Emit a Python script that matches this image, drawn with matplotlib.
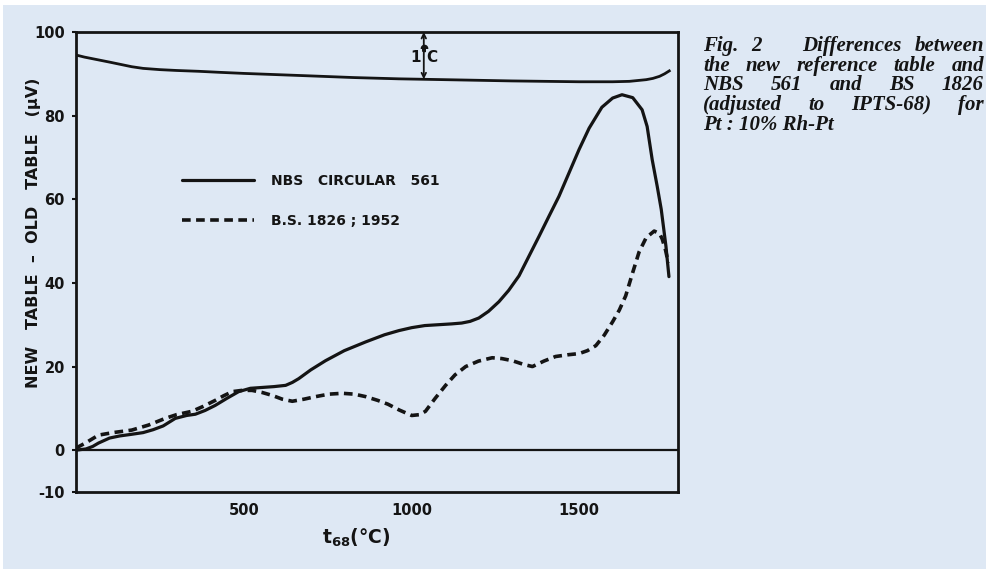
import matplotlib
matplotlib.use("Agg")
import matplotlib.pyplot as plt
from matplotlib.patches import Rectangle

plt.rcParams["axes.unicode_minus"] = False

#   values (t68 in degC, difference in microvolts)

nbs_t = [0, 30, 50, 67, 100, 130, 166, 200, 230, 260, 296, 330, 356, 385, 415, 450,
         485, 520, 555, 590, 625, 645, 664, 700, 744, 800, 864, 920, 963, 1001, 1040,
         1080, 1120, 1150, 1175, 1201, 1230, 1261, 1290, 1321, 1350, 1381, 1410, 1440,
         1470, 1500, 1530, 1568, 1600, 1628, 1660, 1688, 1703, 1718, 1733, 1745, 1759,
         1768]
nbs_v = [0, 0.3, 0.9, 1.7, 2.9, 3.4, 3.8, 4.2, 4.9, 5.8, 7.6, 8.3, 8.6, 9.5, 10.7, 12.4,
         14.0, 14.8, 15.0, 15.2, 15.5, 16.2, 17.1, 19.2, 21.4, 23.8, 25.9, 27.6, 28.6, 29.3,
         29.8, 30.0, 30.2, 30.4, 30.8, 31.6, 33.2, 35.5, 38.2, 41.7, 46.3, 51.2, 55.9, 60.7,
         66.3, 71.9, 77.0, 82.0, 84.2, 85.0, 84.3, 81.4, 77.4, 69.5, 63.1, 57.6, 48.8,
         41.5]

bs_t = [0, 30, 67, 110, 166, 216, 266, 300, 346, 380, 415, 440, 466, 495, 525, 555, 585,
        615, 645, 680, 714, 754, 794, 830, 864, 900, 930, 964, 1001, 1025, 1042, 1070,
        1102, 1130, 1162, 1200, 1241, 1270, 1301, 1335, 1361, 1395, 1430, 1465, 1500,
        1525, 1550, 1575, 1600, 1620, 1639, 1660, 1679, 1700, 1724, 1740, 1748, 1758,
        1766]
bs_v = [0.5, 1.8, 3.6, 4.2, 4.8, 6.0, 7.6, 8.5, 9.3, 10.5, 11.9, 13.0, 14.0, 14.3, 14.3,
        13.8, 13.1, 12.2, 11.7, 12.2, 12.8, 13.4, 13.6, 13.4, 12.8, 11.9, 11.0, 9.6, 8.3,
        8.5, 9.3, 12.3, 15.5, 18.0, 20.0, 21.3, 22.1, 21.9, 21.4, 20.5, 20.0, 21.3, 22.4,
        22.8, 23.1, 23.8, 25.0, 27.5, 30.7, 33.5, 36.9, 42.5, 47.4, 50.8, 52.4, 51.8, 50.5,
        47.8, 44.8]

#   1 degC scale curve hanging from the top of the frame
scale_t = [0, 25, 50, 100, 166, 200, 250, 300, 366, 430, 500, 600, 700, 830, 963, 1100,
           1300, 1500, 1600, 1650, 1700, 1720, 1740, 1755, 1769]
scale_v = [94.5, 94.0, 93.6, 92.8, 91.7, 91.3, 91.0, 90.8, 90.6, 90.35, 90.1, 89.8, 89.5,
           89.1, 88.8, 88.6, 88.3, 88.1, 88.1, 88.2, 88.6, 88.9, 89.4, 90.0, 90.7]

labels = ["NBS   CIRCULAR   561", "B.S. 1826 ; 1952"]
yticks = [-10, 0, 20, 40, 60, 80, 100]
xticks = [500, 1000, 1500]
arrow_t = 1037

caption = [("Fig. 2 Differences between", [1, 3, 1]),
           ("the new reference table and", None),
           ("NBS 561 and BS 1826", None),
           ("(adjusted to IPTS-68) for", None),
           ("Pt : 10% Rh-Pt", "left")]

bg = "#dee8f4"
ink = "#141414"

fig = plt.figure(figsize=(9.87, 5.69), dpi=100, facecolor="white")
fig.patches.append(Rectangle((3 / 987, 0), 1, 1 - 5 / 569, transform=fig.transFigure,
                             facecolor=bg, edgecolor="none", zorder=-10))

ax = fig.add_axes([76 / 987, 1 - 492 / 569, 602 / 987, 460 / 569])
ax.set_facecolor("none")

ax.plot(nbs_t, nbs_v, color=ink, lw=2.3, solid_capstyle="round",
        solid_joinstyle="round", label=labels[0])
ax.plot(bs_t, bs_v, color=ink, lw=2.6, linestyle=(0, (2.4, 1.5)), label=labels[1])
ax.plot(scale_t, scale_v, color=ink, lw=2.0, solid_joinstyle="round")
ax.axhline(0, color=ink, lw=1.6)

#   1 degC marker
ax.annotate("", xy=(arrow_t, 100), xytext=(arrow_t, 88.7),
            arrowprops=dict(arrowstyle="<->", color=ink, lw=1.3, shrinkA=0, shrinkB=0,
                            mutation_scale=8))
ax.annotate("1", (arrow_t, 94.0), xytext=(-2, 0), textcoords="offset points",
            ha="right", va="center", fontsize=11, fontweight="bold", color=ink,
            bbox=dict(fc=bg, ec="none", pad=0.5))
ax.annotate("C", (arrow_t, 94.0), xytext=(2, 0), textcoords="offset points",
            ha="left", va="center", fontsize=11, fontweight="bold", color=ink,
            bbox=dict(fc=bg, ec="none", pad=0.5))
ax.plot([arrow_t], [96.2], marker="o", ms=4.5, color=ink)

ax.set_xlim(0, 1795)
ax.set_ylim(-10, 100)
ax.set_xticks(xticks)
ax.set_yticks(yticks)
ax.tick_params(axis="y", direction="out", length=3, width=1.5, pad=5,
               labelsize=10.5, colors=ink)
ax.tick_params(axis="x", length=0, pad=8, labelsize=10.5, colors=ink)
for lab in ax.get_xticklabels() + ax.get_yticklabels():
    lab.set_fontweight("bold")
for s in ax.spines.values():
    s.set_linewidth(2.0)
    s.set_color(ink)

ax.set_ylabel("NEW   TABLE  \u2013  OLD   TABLE   (\u00b5V)", fontsize=11.5,
              fontweight="bold", color=ink)
ax.yaxis.set_label_coords(-0.058, 0.563)
ax.set_xlabel(r"t$_{\mathbf{68}}$(°C)", fontsize=13.5, fontweight="bold", color=ink)
ax.xaxis.set_label_coords(0.466, -0.076)

ax.legend(loc="upper left", bbox_to_anchor=(0.155, 0.718), frameon=False,
          handlelength=5.2, handletextpad=1.2, labelspacing=1.85,
          prop=dict(size=10, weight="bold"), labelcolor=ink)

#   justified caption on the right
fig.canvas.draw()
r = fig.canvas.get_renderer()
W, H = fig.bbox.width, fig.bbox.height
x0, x1 = 703, 984
base = 51
for line, mode in caption:
    words = line.split()
    kw = dict(fontsize=15, fontweight="bold", fontstyle="italic",
              family="Liberation Serif", color=ink, va="baseline")
    if mode == "left":
        fig.text(x0 / W, 1 - base / H, line, **kw)
    else:
        objs = [fig.text(0, 1 - base / H, w, **kw) for w in words]
        widths = [o.get_window_extent(r).width for o in objs]
        weights = mode if mode else [1] * (len(words) - 1)
        unit = (x1 - x0 - sum(widths)) / sum(weights)
        x = x0
        for i, o in enumerate(objs):
            o.set_x(x / W)
            x += widths[i]
            if i < len(weights):
                x += unit * weights[i]
    base += 19.7

fig.savefig("out.png", dpi=100, facecolor=fig.get_facecolor())
